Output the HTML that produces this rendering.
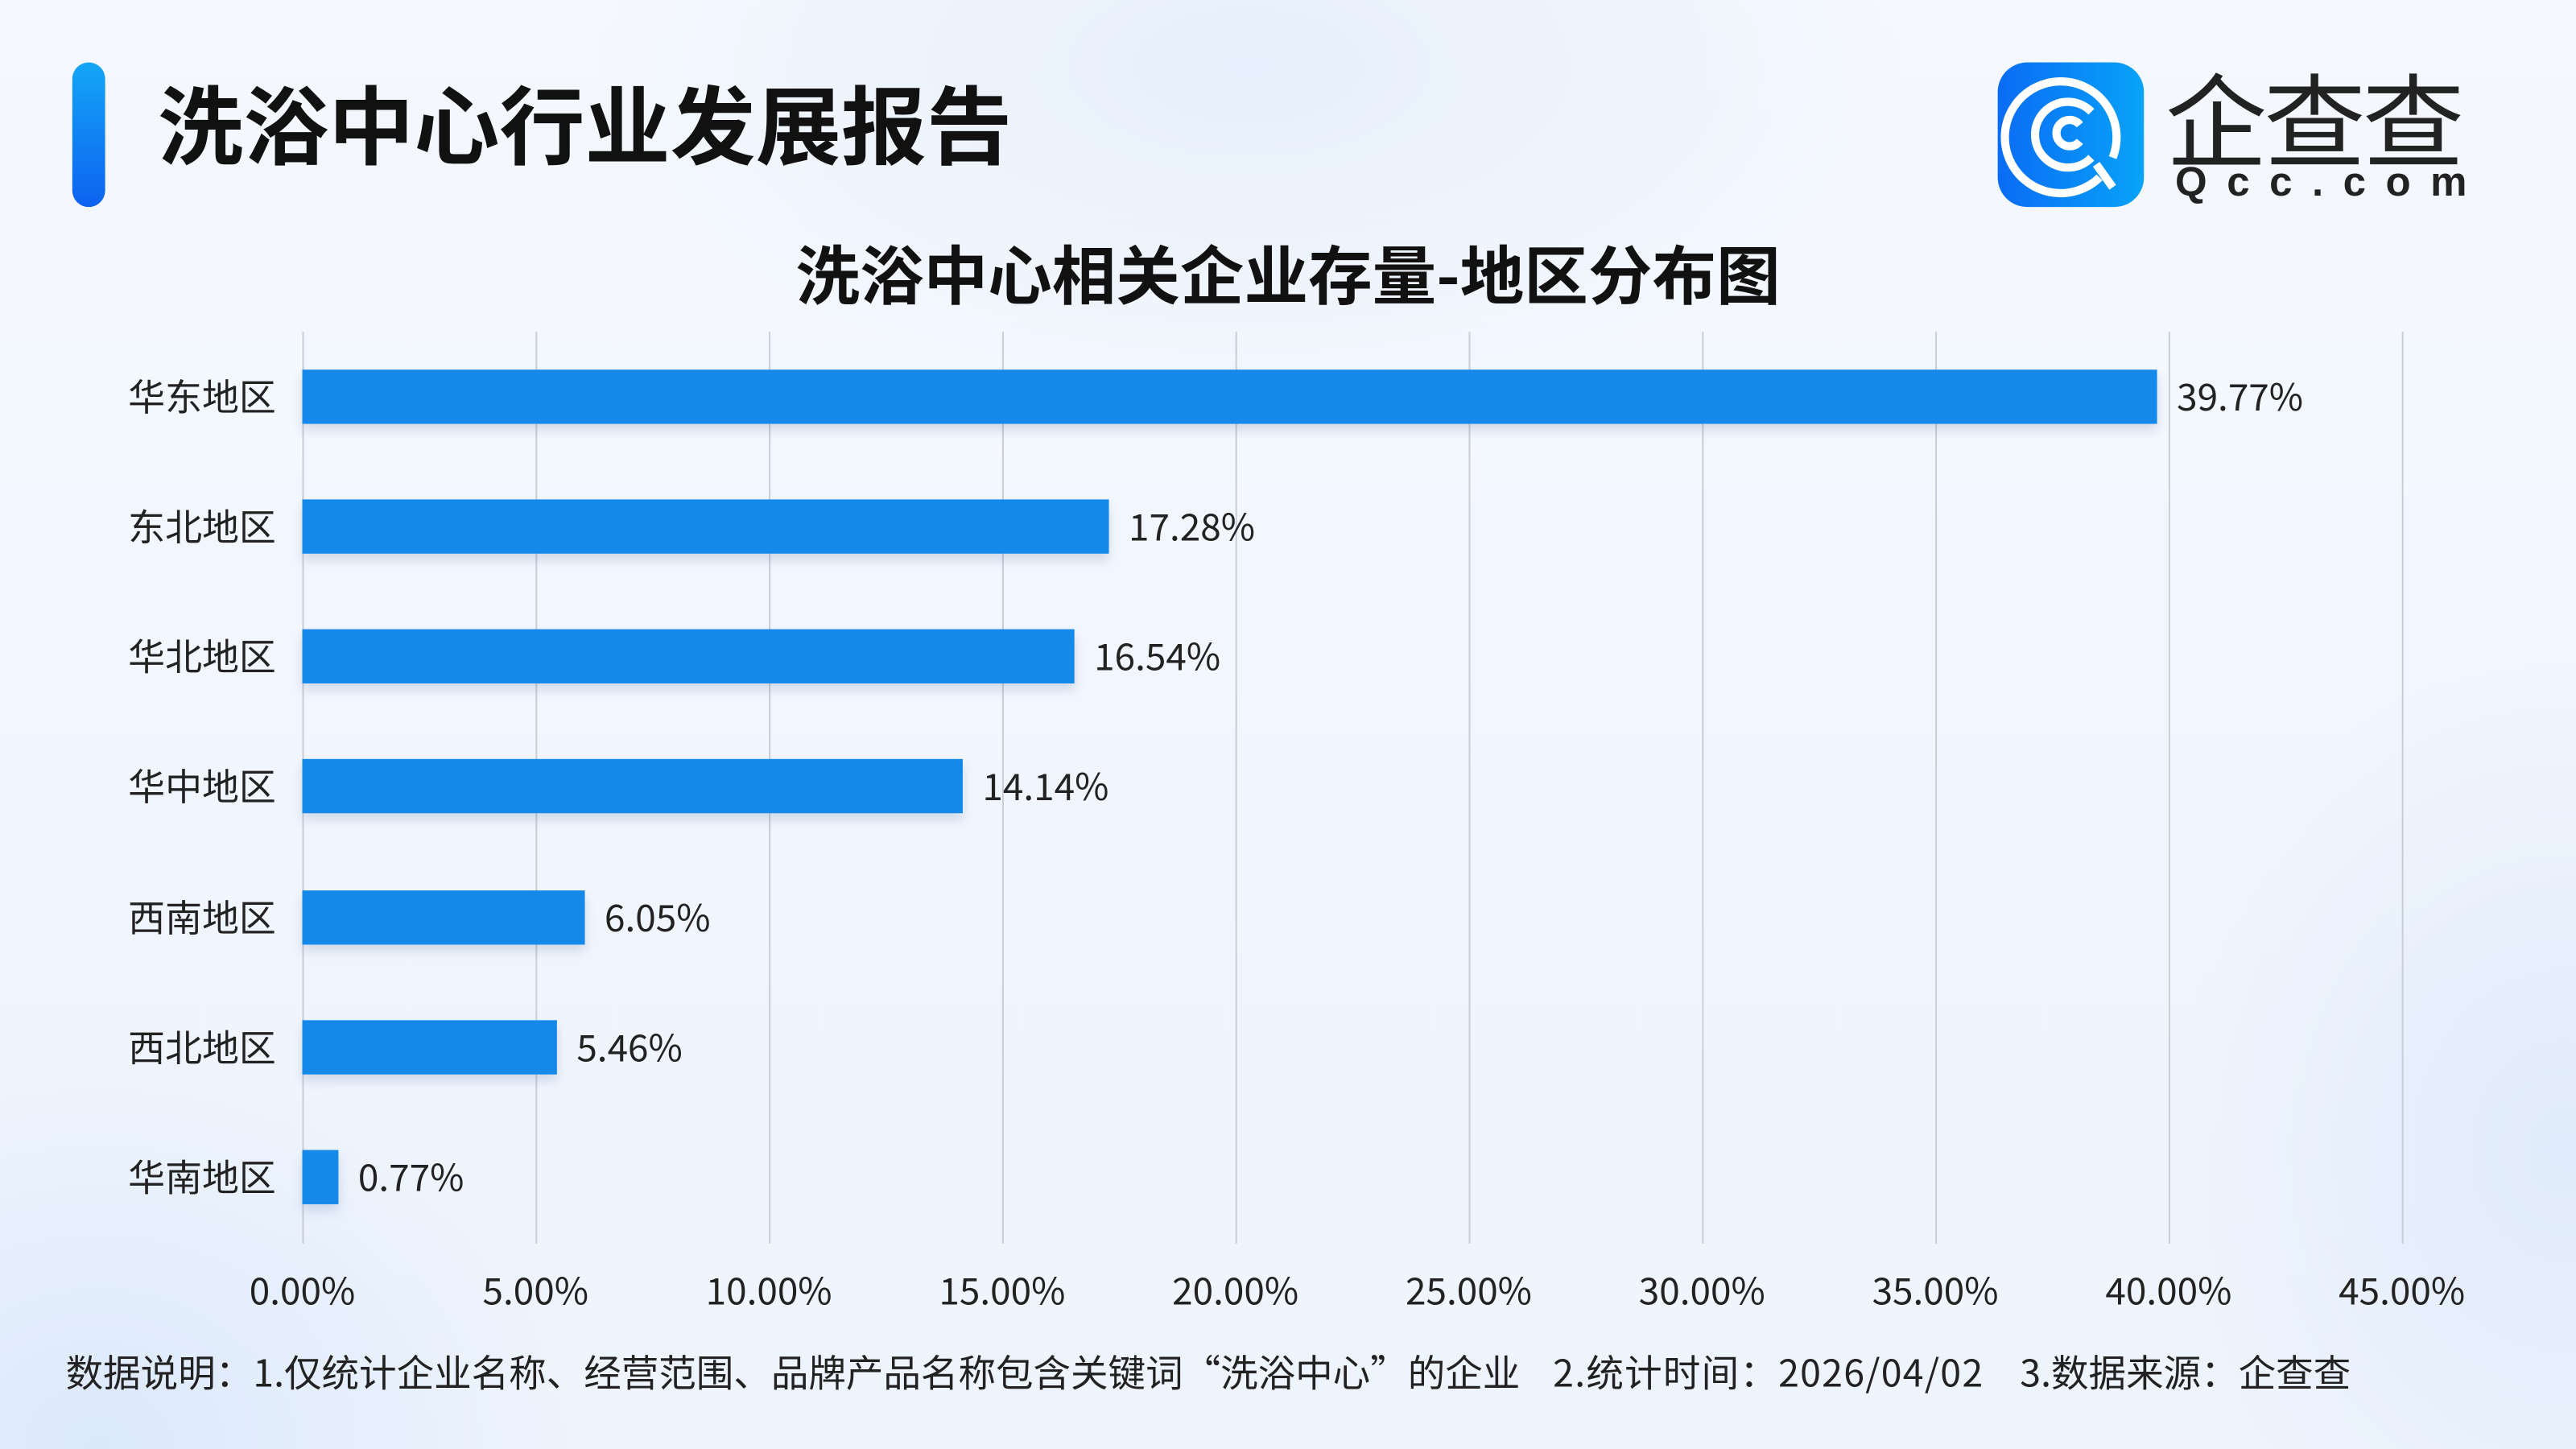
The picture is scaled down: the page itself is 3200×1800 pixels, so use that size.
<!DOCTYPE html>
<html><head><meta charset="utf-8"><style>
html,body{margin:0;padding:0;width:3200px;height:1800px;overflow:hidden}
#w{position:absolute;left:0;top:0;width:1568px;height:882px;transform:scale(2.040816);transform-origin:0 0;
background:radial-gradient(ellipse 400px 200px at 760px 40px,#e6effb 0%,rgba(230,239,251,0) 100%),radial-gradient(ellipse 300px 250px at 60px 880px,#dce9fb 0%,rgba(220,233,251,0) 100%),radial-gradient(ellipse 250px 300px at 1560px 700px,#e0ebfb 0%,rgba(224,235,251,0) 100%),linear-gradient(180deg,#f5f8fe,#eef4fd);
font-family:"Noto Sans CJK SC","Liberation Sans",sans-serif;color:#222}
.a{position:absolute;white-space:nowrap}
.g{position:absolute;top:202px;height:555px;width:1px;background:#c9ced8}
.bar{position:absolute;left:184px;height:33px;background:#1589ea;box-shadow:0 4px 6px rgba(60,90,140,.18)}
.lab{position:absolute;right:1400px;font-size:22.5px;line-height:24px;color:#222}
.val{position:absolute;font-size:22.5px;line-height:24px;color:#222}
.t{position:absolute;top:773px;font-size:22.5px;line-height:24px;width:100px;text-align:center;color:#222}
</style></head><body><div id="w">
<div class="a" style="left:44px;top:38px;width:20px;height:88px;border-radius:10px;background:linear-gradient(180deg,#14a6f6,#0d62f0)"></div>
<div class="a" style="left:96px;top:41px;font-size:52px;line-height:66px;font-weight:bold;color:#111">洗浴中心行业发展报告</div>
<div class="a" style="left:1216px;top:38px;width:89px;height:88px;border-radius:18px;background:linear-gradient(90deg,#0a6cf5,#08a3f8)">
<svg width="89" height="88" viewBox="0 0 89 88"><g fill="none" stroke="#fff" stroke-width="5"><path d="M62 70 A34 34 0 1 1 70 58"/><path d="M57 58 A20 20 0 1 1 57 30"/><path d="M50 48 A8 8 0 1 1 50 38"/><path d="M60 62 L70 76"/></g></svg></div>
<div class="a" style="left:1318px;top:32px;font-size:62px;line-height:76px;color:#222;letter-spacing:-2px">企查查</div>
<div class="a" style="left:1324px;top:97px;font-size:25px;line-height:28px;color:#222;letter-spacing:12px;font-family:'Liberation Sans',sans-serif;font-weight:bold">Qcc.com</div>
<div class="a" style="left:0;width:1568px;top:141px;text-align:center;font-size:39px;line-height:50px;font-weight:bold;color:#111">洗浴中心相关企业存量-地区分布图</div>
<div class="g" style="left:184px"></div><div class="g" style="left:326px"></div><div class="g" style="left:468px"></div><div class="g" style="left:610px"></div><div class="g" style="left:752px"></div><div class="g" style="left:894px"></div><div class="g" style="left:1036px"></div><div class="g" style="left:1178px"></div><div class="g" style="left:1320px"></div><div class="g" style="left:1462px"></div>
<div class="bar" style="top:225px;width:1129px"></div><div class="lab" style="top:229px">华东地区</div><div class="val" style="left:1325px;top:229px">39.77%</div>
<div class="bar" style="top:304px;width:491px"></div><div class="lab" style="top:308px">东北地区</div><div class="val" style="left:687px;top:308px">17.28%</div>
<div class="bar" style="top:383px;width:470px"></div><div class="lab" style="top:387px">华北地区</div><div class="val" style="left:666px;top:387px">16.54%</div>
<div class="bar" style="top:462px;width:402px"></div><div class="lab" style="top:466px">华中地区</div><div class="val" style="left:598px;top:466px">14.14%</div>
<div class="bar" style="top:542px;width:172px"></div><div class="lab" style="top:546px">西南地区</div><div class="val" style="left:368px;top:546px">6.05%</div>
<div class="bar" style="top:621px;width:155px"></div><div class="lab" style="top:625px">西北地区</div><div class="val" style="left:351px;top:625px">5.46%</div>
<div class="bar" style="top:700px;width:22px"></div><div class="lab" style="top:704px">华南地区</div><div class="val" style="left:218px;top:704px">0.77%</div>
<div class="t" style="left:134px">0.00%</div><div class="t" style="left:276px">5.00%</div><div class="t" style="left:418px">10.00%</div><div class="t" style="left:560px">15.00%</div><div class="t" style="left:702px">20.00%</div><div class="t" style="left:844px">25.00%</div><div class="t" style="left:986px">30.00%</div><div class="t" style="left:1128px">35.00%</div><div class="t" style="left:1270px">40.00%</div><div class="t" style="left:1412px">45.00%</div>
<div class="a" style="left:40px;top:821px;font-size:22.8px;line-height:28px;color:#222">数据说明：1.仅统计企业名称、经营范围、品牌产品名称包含关键词“洗浴中心”的企业<span style="margin-left:20px;letter-spacing:0.6px">2.统计时间：2026/04/02</span><span style="margin-left:22px">3.数据来源：企查查</span></div>
</div></body></html>
